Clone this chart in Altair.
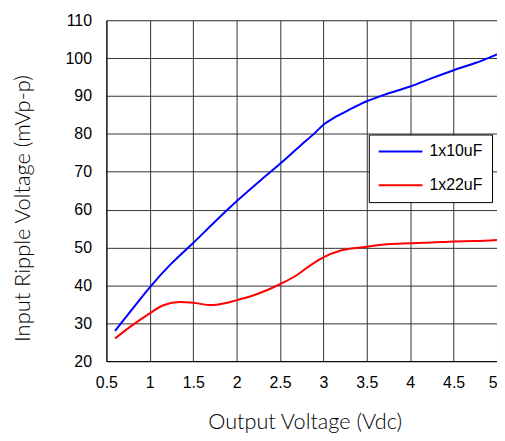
import altair as alt
import pandas as pd

vout_10 = [0.6, 0.8, 1.0, 1.25, 1.5, 1.75, 2.0, 2.25, 2.5, 2.75, 2.9, 3.0, 3.15, 3.3, 3.5, 3.7, 4.0, 4.25, 4.5, 4.75, 5.0]
ripple_10 = [28.0, 33.8, 39.5, 45.8, 51.2, 56.8, 62.2, 67.2, 72.1, 77.2, 80.2, 82.4, 84.6, 86.4, 88.6, 90.3, 92.5, 94.7, 96.8, 98.7, 101.0]

vout_22 = [0.6, 0.8, 1.0, 1.15, 1.35, 1.5, 1.7, 1.85, 2.0, 2.2, 2.5, 2.7, 2.85, 3.0, 3.2, 3.5, 3.7, 4.0, 4.25, 4.5, 4.75, 5.0]
ripple_22 = [26.0, 29.5, 32.6, 34.7, 35.6, 35.4, 34.8, 35.2, 36.1, 37.4, 40.3, 42.8, 45.3, 47.4, 49.2, 50.2, 50.8, 51.1, 51.3, 51.6, 51.7, 52.0]

series_names = ["1x10uF", "1x22uF"]
series_colors = ["#0000ff", "#ff0000"]
x_ticks = [0.5, 1, 1.5, 2, 2.5, 3, 3.5, 4, 4.5, 5]
y_ticks = [20, 30, 40, 50, 60, 70, 80, 90, 100, 110]

df = pd.concat([
    pd.DataFrame({"vout": vout_10, "ripple": ripple_10, "series": series_names[0]}),
    pd.DataFrame({"vout": vout_22, "ripple": ripple_22, "series": series_names[1]}),
])

label_font = "Liberation Sans"
title_font = "Lato"

chart = alt.Chart(df).mark_line(strokeWidth=2, interpolate="monotone").encode(
    x=alt.X("vout:Q",
            scale=alt.Scale(domain=[0.5, 5], nice=False, zero=False),
            axis=alt.Axis(values=x_ticks, title="Output Voltage (Vdc)", grid=True, format="~g",
                          ticks=False, tickSize=0, labelPadding=14, labelFontSize=16,
                          labelFont=label_font, labelColor="#000", labelFlush=False,
                          labelAlign={"condition": {"test": "datum.value >= 5", "value": "right"},
                                      "value": "center"},
                          titleFont=title_font, titleFontSize=21.8, titleFontWeight=300,
                          titleColor="#000", titleX=199.5, titleY=68, titleBaseline="alphabetic",
                          domainColor="#000", domainWidth=1,
                          gridColor="#333", gridWidth=1, gridOpacity=1)),
    y=alt.Y("ripple:Q",
            scale=alt.Scale(domain=[20, 110], nice=False, zero=False),
            axis=alt.Axis(values=y_ticks, title="Input Ripple Voltage (mVp-p)", grid=True,
                          ticks=False, tickSize=0, labelPadding=15, labelFontSize=16,
                          labelFont=label_font, labelColor="#000", labelFlush=False,
                          titleFont=title_font, titleFontSize=22, titleFontWeight=300,
                          titleColor="#000", titleX=-84, titleY=189, titleBaseline="middle",
                          titleAngle=-90, titleAlign="center",
                          domainColor="#000", domainWidth=1,
                          gridColor="#333", gridWidth=1, gridOpacity=1)),
    color=alt.Color("series:N",
                    scale=alt.Scale(domain=series_names, range=series_colors),
                    legend=alt.Legend(title=None, orient="none", legendX=264, legendY=115,
                                      symbolType="stroke", symbolSize=1936, symbolStrokeWidth=2,
                                      clipHeight=16,
                                      labelFont=label_font, labelFontSize=16, labelColor="#000",
                                      labelOffset=6, rowPadding=18, padding=9,
                                      strokeColor="#000", fillColor="#fff",
                                      cornerRadius=0)),
).properties(
    width=393, height=343,
    autosize=alt.AutoSizeParams(type="none"),
    padding={"left": 99, "top": 11, "right": 0, "bottom": 71},
).configure_view(
    stroke="#aaa", strokeWidth=1
).configure(background="#fff")

chart.save("out.html", embed_options={"renderer": "svg", "actions": False})
